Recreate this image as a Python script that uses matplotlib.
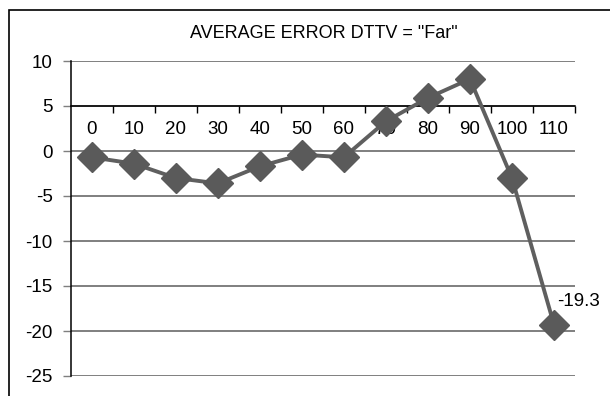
import matplotlib
matplotlib.use("Agg")
import matplotlib.pyplot as plt
from matplotlib.patches import Rectangle
from matplotlib.ticker import FixedLocator, NullFormatter

plt.rcParams["axes.unicode_minus"] = False
plt.rcParams["font.family"] = ["Liberation Sans", "DejaVu Sans"]

categories = ["0", "10", "20", "30", "40", "50", "60", "70", "80", "90", "100", "110"]
avg_error = [-0.7, -1.4, -3.0, -3.6, -1.7, -0.4, -0.7, 3.3, 5.9, 8.0, -3.0, -19.3]
y_ticks = [10, 5, 0, -5, -10, -15, -20, -25]
title = 'AVERAGE ERROR DTTV = "Far"'

W, H = 610, 396
fig = plt.figure(figsize=(W / 100, H / 100), dpi=100)

# outer chart frame (runs past the right and bottom edges)
fig.patches.append(Rectangle((9 / W, -0.1), 1.2, 1 - 10 / H + 0.1,
                             transform=fig.transFigure, fill=False,
                             edgecolor="black", linewidth=1.2))

ax = fig.add_axes([70.7 / W, 1 - 376 / H, (575 - 70.7) / W, (376 - 61) / H])
ax.set_facecolor("none")

x = list(range(len(categories)))
ax.plot(x, avg_error, color="#5f5f5f", linewidth=2.8, marker="D",
        markersize=15, markerfacecolor="#5a5a5a", markeredgecolor="#5a5a5a",
        zorder=5, clip_on=False)

ax.set_xlim(-0.5, len(categories) - 0.5)
ax.set_ylim(-25, 10)

# horizontal gridlines
for v in y_ticks:
    ax.axhline(v, color="#7f7f7f", linewidth=1.4, zorder=1)

# y axis
ax.set_yticks(y_ticks)
ax.set_yticklabels([str(v) for v in y_ticks])
ax.tick_params(axis="y", direction="out", length=6, width=1, color="#7f7f7f",
               pad=7, labelsize=13.5)

# category axis crossing at y = 5
for s in ("top", "right"):
    ax.spines[s].set_visible(False)
ax.spines["left"].set_color("black")
ax.spines["left"].set_linewidth(1.1)
ax.spines["bottom"].set_position(("data", 5))
ax.spines["bottom"].set_color("black")
ax.spines["bottom"].set_linewidth(1.1)
ax.spines["bottom"].set_zorder(2)
ax.set_xticks(x)
ax.set_xticklabels(categories)
ax.xaxis.set_minor_locator(FixedLocator([i + 0.5 for i in range(len(categories))]))
ax.xaxis.set_minor_formatter(NullFormatter())
ax.tick_params(axis="x", which="major", length=0, pad=11, labelsize=13.5)
ax.tick_params(axis="x", which="minor", direction="out", length=5, width=1,
               color="black")

# value label on the last point
ax.annotate(f"{avg_error[-1]}", (x[-1], avg_error[-1]), xytext=(2, 16.5),
            textcoords="offset points", ha="left", va="center", fontsize=13.5,
            annotation_clip=False)

fig.text(323.5 / W, 1 - 33 / H, title, ha="center", va="center", fontsize=13)

fig.savefig("out.png", dpi=100)
